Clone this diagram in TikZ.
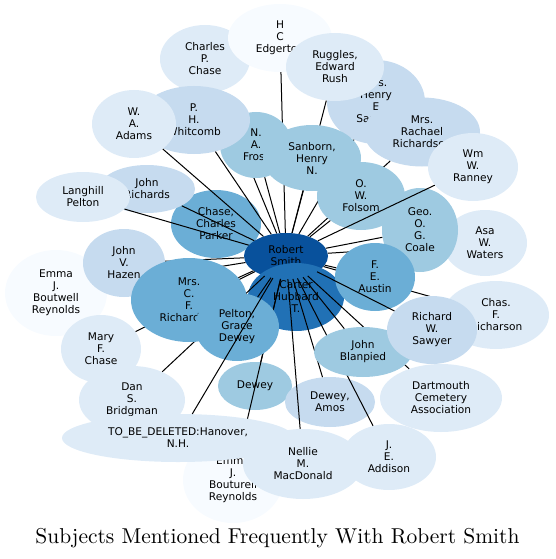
\documentclass[tikz,border=0pt]{standalone}
\usepackage{fontspec}
\newfontfamily\labelfont{DejaVu Sans}
\newfontfamily\titlefont{lmroman10-regular}[Extension=.otf]
\usetikzlibrary{shapes.geometric}
\definecolor{b0}{HTML}{F7FBFF}
\definecolor{b1}{HTML}{DEEBF7}
\definecolor{b2}{HTML}{C6DBEF}
\definecolor{b3}{HTML}{9ECAE1}
\definecolor{b4}{HTML}{6BAED6}
\definecolor{b5}{HTML}{2171B5}
\definecolor{b6}{HTML}{08519C}

\begin{document}
\begin{tikzpicture}[x=1pt,y=-1pt,
  subj/.style={ellipse,inner sep=0pt,align=center,text=black,
    font=\labelfont\fontsize{10.6}{12}\selectfont},
  sz/.style 2 args={minimum width=#1pt,minimum height=#2pt},
  link/.style={draw=black,line width=1pt}]
\useasboundingbox (0,0) rectangle (555,559);

% back row, top
\node[subj,fill=b1,sz={90}{68}] (cpc) at (205,59) {Charles\\P.\\Chase};
\node[subj,fill=b0,sz={104}{68}] (hce) at (280,38) {H\\C\\Edgerton};
\node[subj,fill=b4,sz={90}{68}] (chase) at (216,224) {Chase,\\Charles\\Parker};

% the two central subjects
\node[subj,fill=b6,sz={84}{46}] (rs) at (286,256) {Robert\\Smith};
\node[subj,fill=b5,sz={96}{68}] (carter) at (296,297) {Carter\\Hubbard\\T.};

% upper right
\node[subj,fill=b2,sz={98}{84}] (mhs) at (376,102) {Mrs.\\Henry\\E\\Sawyer};
\node[subj,fill=b1,sz={98}{68}] (ruggles) at (335,67) {Ruggles,\\Edward\\Rush};
\node[subj,fill=b2,sz={116}{69}] (rachael) at (422,132) {Mrs.\\Rachael\\Richardson};
\node[subj,fill=b1,sz={90}{68}] (ranney) at (473,167) {Wm\\W.\\Ranney};
\foreach \n in {cpc,hce,mhs,ruggles,rachael} \draw[link] (rs) -- (\n);

\node[subj,fill=b3,sz={72}{66}] (frost) at (256,145) {N.\\A.\\Frost};
\node[subj,fill=b2,sz={112}{68}] (whitcomb) at (194,120) {P.\\H.\\Whitcomb};
\node[subj,fill=b1,sz={84}{68}] (adams) at (134,124) {W.\\A.\\Adams};
\node[subj,fill=b3,sz={98}{66}] (sanborn) at (312,158) {Sanborn,\\Henry\\N.};
\node[subj,fill=b3,sz={88}{68}] (folsom) at (361,196) {O.\\W.\\Folsom};
\node[subj,fill=b1,sz={84}{66}] (asa) at (485,243) {Asa\\W.\\Waters};
\draw[link] (rs) -- (asa);
\node[subj,fill=b3,sz={76}{84}] (coale) at (420,230) {Geo.\\O.\\G.\\Coale};
\foreach \n in {frost,whitcomb,adams,sanborn,folsom,coale,ranney} \draw[link] (rs) -- (\n);

% left side
\node[subj,fill=b2,sz={96}{48}] (jrich) at (147,189) {John\\Richards};
\node[subj,fill=b1,sz={94}{50}] (langhill) at (83,197) {Langhill\\Pelton};
\foreach \n in {jrich,langhill} \draw[link] (rs) -- (\n);
\node[subj,fill=b0,sz={102}{86}] (emmab) at (56,293) {Emma\\J.\\Boutwell\\Reynolds};
\draw[link] (rs) -- (emmab);
\node[subj,fill=b2,sz={82}{68}] (hazen) at (124,263) {John\\V.\\Hazen};
\node[subj,fill=b1,sz={80}{68}] (maryc) at (101,349) {Mary\\F.\\Chase};
\node[subj,fill=b1,sz={106}{68}] (danb) at (132,400) {Dan\\S.\\Bridgman};
\foreach \n in {hazen,maryc,danb} \draw[link] (rs) -- (\n);

% right side
\node[subj,fill=b1,sz={106}{68}] (chasf) at (496,315) {Chas.\\F.\\Richarson};
\draw[link] (rs) -- (chasf);
\node[subj,fill=b4,sz={80}{68}] (austin) at (375,277) {F.\\E.\\Austin};
\draw[link] (rs) -- (austin);
\node[subj,fill=b1,sz={122}{68}] (dartmouth) at (441,398) {Dartmouth\\Cemetery\\Association};
\draw[link] (rs) -- (dartmouth);

% bottom
\node[subj,fill=b3,sz={74}{48}] (dewey) at (255,386) {Dewey};
\node[subj,fill=b0,sz={100}{86}] (emmabt) at (233,480) {Emma\\J.\\Bouturell\\Reynolds};
\node[subj,fill=b1,sz={120}{70}] (nellie) at (303,464) {Nellie\\M.\\MacDonald};
\node[subj,fill=b2,sz={90}{50}] (amos) at (330,402) {Dewey,\\Amos};
\node[subj,fill=b1,sz={94}{66}] (addison) at (389,457) {J.\\E.\\Addison};
\foreach \n in {dewey,emmabt,nellie,amos,addison} \draw[link] (rs) -- (\n);
\node[subj,fill=b1,sz={232}{48}] (tbd) at (178,438) {TO\_BE\_DELETED:Hanover,\\N.H.};
\node[subj,fill=b4,sz={116}{84}] (mrscf) at (189,300) {Mrs.\\C.\\F.\\Richardson};
\draw[link] (rs) -- (mrscf);
\node[subj,fill=b4,sz={84}{68}] (pelton) at (237,327) {Pelton,\\Grace\\Dewey};
\foreach \n in {tbd,pelton} \draw[link] (rs) -- (\n);
\node[subj,fill=b3,sz={98}{50}] (blanpied) at (363,352) {John\\Blanpied};
\draw[link] (rs) -- (blanpied);
\node[subj,fill=b2,sz={90}{68}] (sawyer) at (432,330) {Richard\\W.\\Sawyer};
\draw[link] (rs) -- (sawyer);

% title
\node[anchor=base,font=\titlefont\fontsize{21.5}{24}\selectfont] (title) at (277.5,543)
  {Subjects Mentioned Frequently With Robert Smith};
\end{tikzpicture}
\end{document}
